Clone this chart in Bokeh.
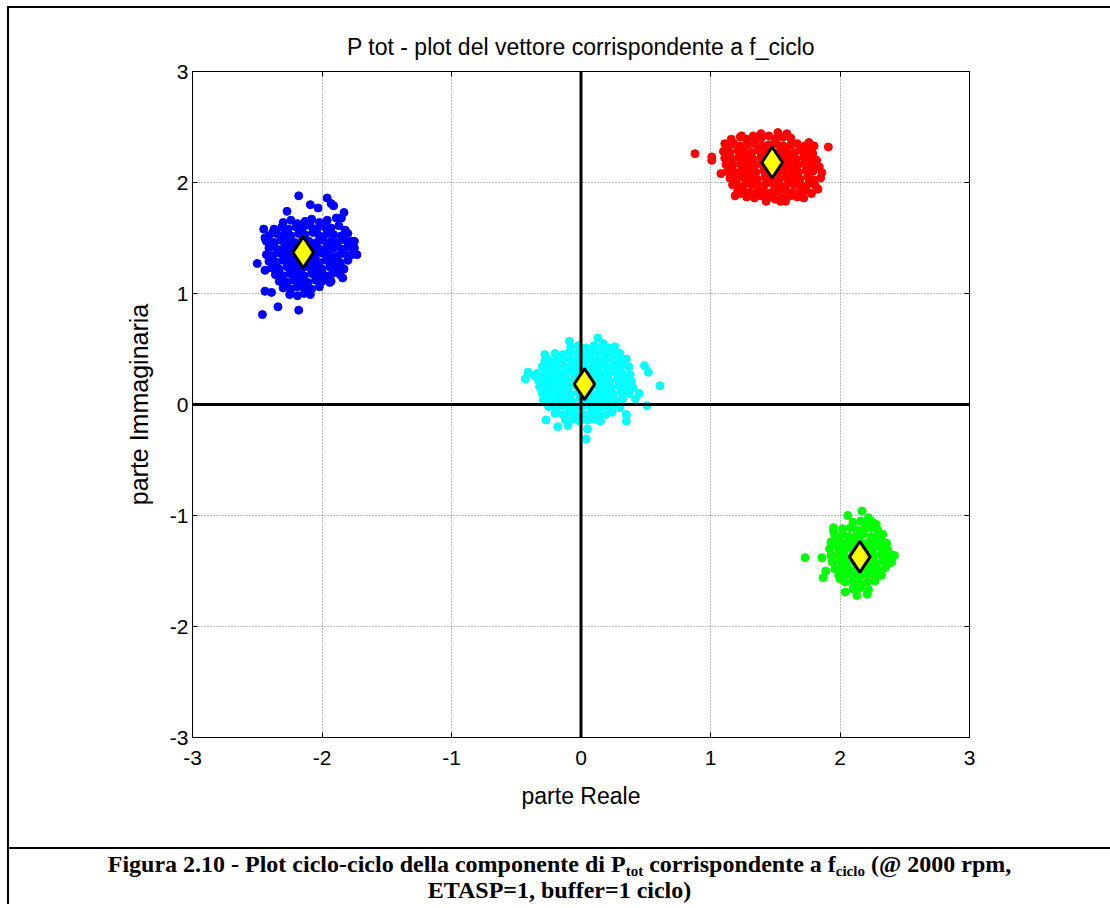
from bokeh.plotting import figure
from bokeh.models import Span, FixedTicker, LinearAxis, Range1d, Div, CustomJSTickFormatter
from bokeh.layouts import column
from bokeh.embed import file_html
from bokeh.resources import INLINE

# axis ticks (both axes)
tick_values = [-3, -2, -1, 0, 1, 2, 3]
tick_labels = {v: str(v) for v in tick_values}

# cycle-by-cycle vectors (real part, imaginary part), one cloud per harmonic source
blue_pts = [
    (-2.18, 1.88), (-1.96, 1.86), (-2.09, 1.80), (-2.03, 1.77), (-1.93, 1.81), (-1.91, 1.79),
    (-2.27, 1.74), (-1.83, 1.73), (-1.89, 1.68), (-1.85, 1.68), (-2.45, 1.58), (-2.38, 1.55),
    (-2.44, 1.50), (-1.82, 1.57), (-1.75, 1.47), (-1.73, 1.35), (-2.50, 1.27), (-2.44, 1.21),
    (-1.85, 1.24), (-1.93, 1.11), (-1.84, 1.14), (-2.44, 1.02), (-2.39, 1.01), (-2.34, 0.88),
    (-2.18, 0.85), (-2.46, 0.81),
    (-2.30, 1.64), (-2.24, 1.66), (-2.19, 1.63), (-2.13, 1.65), (-2.08, 1.67), (-2.02, 1.64), (-1.96, 1.66),
    (-2.37, 1.58), (-2.31, 1.60), (-2.26, 1.58), (-2.20, 1.60), (-2.15, 1.59), (-2.09, 1.61), (-2.04, 1.58),
    (-1.98, 1.60), (-1.93, 1.59), (-1.87, 1.61),
    (-2.41, 1.52), (-2.35, 1.54), (-2.29, 1.53), (-2.24, 1.52), (-2.18, 1.54), (-2.13, 1.53), (-2.07, 1.55),
    (-2.02, 1.52), (-1.96, 1.54), (-1.91, 1.53), (-1.85, 1.52), (-1.80, 1.54),
    (-2.43, 1.47), (-2.37, 1.46), (-2.32, 1.48), (-2.26, 1.47), (-2.21, 1.46), (-2.15, 1.48), (-2.10, 1.47),
    (-2.04, 1.46), (-1.99, 1.48), (-1.93, 1.47), (-1.88, 1.46), (-1.82, 1.48), (-1.77, 1.47),
    (-2.41, 1.41), (-2.35, 1.40), (-2.29, 1.42), (-2.24, 1.41), (-2.18, 1.40), (-2.13, 1.42), (-2.07, 1.41),
    (-2.02, 1.40), (-1.96, 1.42), (-1.91, 1.41), (-1.85, 1.40), (-1.80, 1.42), (-1.75, 1.41),
    (-2.43, 1.35), (-2.38, 1.34), (-2.32, 1.36), (-2.27, 1.35), (-2.21, 1.34), (-2.16, 1.36), (-2.10, 1.35),
    (-2.05, 1.34), (-1.99, 1.36), (-1.94, 1.35), (-1.88, 1.34), (-1.83, 1.36), (-1.77, 1.35),
    (-2.41, 1.29), (-2.35, 1.28), (-2.30, 1.30), (-2.24, 1.29), (-2.19, 1.28), (-2.13, 1.30), (-2.08, 1.29),
    (-2.02, 1.28), (-1.97, 1.30), (-1.91, 1.29), (-1.86, 1.28), (-1.80, 1.30),
    (-2.39, 1.23), (-2.33, 1.22), (-2.27, 1.24), (-2.22, 1.23), (-2.16, 1.22), (-2.11, 1.24), (-2.05, 1.23),
    (-2.00, 1.22), (-1.94, 1.24), (-1.89, 1.23), (-1.83, 1.22),
    (-2.36, 1.17), (-2.30, 1.16), (-2.25, 1.18), (-2.19, 1.17), (-2.14, 1.16), (-2.08, 1.18), (-2.03, 1.17),
    (-1.97, 1.16), (-1.92, 1.18), (-1.86, 1.17),
    (-2.33, 1.11), (-2.27, 1.10), (-2.22, 1.12), (-2.16, 1.11), (-2.11, 1.10), (-2.05, 1.12), (-2.00, 1.11),
    (-1.94, 1.10),
    (-2.30, 1.05), (-2.24, 1.04), (-2.19, 1.06), (-2.13, 1.05), (-2.08, 1.04), (-2.02, 1.06),
    (-2.25, 0.99), (-2.19, 0.98), (-2.14, 1.00), (-2.09, 0.99),
]

red_pts = [
    (0.88, 2.26), (1.01, 2.23), (1.01, 2.20), (1.08, 2.08), (1.11, 2.35), (1.91, 2.32), (1.80, 2.33),
    (1.83, 1.94), (1.85, 2.04), (1.23, 1.90), (1.43, 1.83), (1.54, 1.83), (1.58, 1.83), (1.39, 2.44),
    (1.52, 2.45), (1.59, 2.44), (1.16, 2.39), (1.24, 2.42), (1.33, 2.42), (1.50, 1.85), (1.19, 1.88),
    (1.23, 2.41), (1.28, 2.39), (1.34, 2.41), (1.39, 2.40), (1.45, 2.42), (1.50, 2.39),
    (1.56, 2.41), (1.62, 2.40),
    (1.14, 2.33), (1.18, 2.35), (1.23, 2.33), (1.29, 2.34), (1.34, 2.35), (1.40, 2.33), (1.45, 2.34),
    (1.51, 2.35), (1.56, 2.33), (1.62, 2.34), (1.67, 2.35), (1.73, 2.33), (1.76, 2.36),
    (1.10, 2.28), (1.15, 2.27), (1.21, 2.29), (1.26, 2.28), (1.32, 2.27), (1.37, 2.29), (1.43, 2.28),
    (1.48, 2.27), (1.54, 2.29), (1.59, 2.28), (1.65, 2.27), (1.70, 2.29), (1.76, 2.28), (1.79, 2.26),
    (1.11, 2.22), (1.17, 2.21), (1.22, 2.23), (1.28, 2.22), (1.33, 2.21), (1.39, 2.23), (1.44, 2.22),
    (1.50, 2.21), (1.55, 2.23), (1.61, 2.22), (1.66, 2.21), (1.72, 2.23), (1.77, 2.22), (1.82, 2.20),
    (1.12, 2.16), (1.17, 2.15), (1.23, 2.17), (1.28, 2.16), (1.34, 2.15), (1.39, 2.17), (1.45, 2.16),
    (1.50, 2.15), (1.56, 2.17), (1.61, 2.16), (1.67, 2.15), (1.72, 2.17), (1.78, 2.16), (1.84, 2.14),
    (1.13, 2.10), (1.19, 2.09), (1.24, 2.11), (1.30, 2.10), (1.35, 2.09), (1.41, 2.11), (1.46, 2.10),
    (1.52, 2.09), (1.57, 2.11), (1.63, 2.10), (1.68, 2.09), (1.74, 2.11), (1.79, 2.10), (1.86, 2.09),
    (1.15, 2.04), (1.20, 2.03), (1.25, 2.05), (1.31, 2.04), (1.36, 2.03), (1.42, 2.05), (1.47, 2.04),
    (1.53, 2.03), (1.58, 2.05), (1.64, 2.04), (1.69, 2.03), (1.75, 2.05), (1.80, 2.02),
    (1.17, 1.98), (1.21, 1.97), (1.27, 1.99), (1.32, 1.98), (1.38, 1.97), (1.43, 1.99), (1.49, 1.98),
    (1.54, 1.97), (1.60, 1.99), (1.65, 1.98), (1.71, 1.97), (1.76, 1.99), (1.81, 1.97),
    (1.21, 1.92), (1.25, 1.93), (1.30, 1.91), (1.36, 1.92), (1.41, 1.93), (1.47, 1.91), (1.52, 1.92),
    (1.58, 1.93), (1.63, 1.91), (1.69, 1.92), (1.74, 1.93), (1.78, 1.90),
    (1.28, 1.87), (1.34, 1.86), (1.39, 1.88), (1.45, 1.87), (1.56, 1.86), (1.62, 1.88), (1.67, 1.87),
    (1.72, 1.86),
]

cyan_pts = [
    (-0.41, 0.29), (-0.36, 0.26), (-0.28, 0.45), (-0.28, 0.39), (-0.09, 0.57), (0.13, 0.60),
    (0.26, 0.52), (0.17, 0.55), (0.49, 0.35), (0.52, 0.29), (0.61, 0.17), (0.51, -0.01),
    (0.35, -0.09), (0.35, -0.15), (0.04, -0.31), (-0.18, -0.20), (-0.27, -0.14), (0.45, 0.10),
    (0.42, 0.05), (-0.43, 0.23), (0.05, -0.22), (-0.10, -0.19),
    (-0.08, 0.52), (-0.02, 0.53), (0.04, 0.51), (0.10, 0.53), (0.16, 0.52), (0.21, 0.51),
    (-0.20, 0.46), (-0.14, 0.45), (-0.09, 0.47), (-0.03, 0.46), (0.02, 0.45), (0.08, 0.47), (0.13, 0.46),
    (0.19, 0.45), (0.24, 0.47), (0.30, 0.46),
    (-0.25, 0.40), (-0.19, 0.39), (-0.14, 0.41), (-0.08, 0.40), (-0.03, 0.39), (0.03, 0.41), (0.08, 0.40),
    (0.14, 0.39), (0.19, 0.41), (0.25, 0.40), (0.30, 0.39), (0.35, 0.41),
    (-0.30, 0.34), (-0.24, 0.33), (-0.19, 0.35), (-0.13, 0.34), (-0.08, 0.33), (-0.02, 0.35), (0.03, 0.34),
    (0.09, 0.33), (0.14, 0.35), (0.20, 0.34), (0.25, 0.33), (0.31, 0.35), (0.37, 0.34),
    (-0.34, 0.28), (-0.28, 0.27), (-0.23, 0.29), (-0.17, 0.28), (-0.12, 0.27), (-0.06, 0.29), (-0.01, 0.28),
    (0.05, 0.27), (0.10, 0.29), (0.16, 0.28), (0.21, 0.27), (0.27, 0.29), (0.32, 0.28), (0.38, 0.27),
    (-0.33, 0.22), (-0.27, 0.21), (-0.22, 0.23), (-0.16, 0.22), (-0.11, 0.21), (-0.05, 0.23), (0.00, 0.22),
    (0.06, 0.21), (0.11, 0.23), (0.17, 0.22), (0.22, 0.21), (0.28, 0.23), (0.33, 0.22), (0.39, 0.21),
    (-0.32, 0.16), (-0.26, 0.15), (-0.21, 0.17), (-0.15, 0.16), (-0.10, 0.15), (-0.04, 0.17), (0.01, 0.16),
    (0.07, 0.15), (0.12, 0.17), (0.18, 0.16), (0.23, 0.15), (0.29, 0.17), (0.34, 0.16), (0.40, 0.15),
    (-0.30, 0.10), (-0.24, 0.09), (-0.19, 0.11), (-0.13, 0.10), (-0.08, 0.09), (-0.02, 0.11), (0.03, 0.10),
    (0.09, 0.09), (0.14, 0.11), (0.20, 0.10), (0.25, 0.09), (0.31, 0.11), (0.37, 0.10),
    (-0.29, 0.04), (-0.23, 0.03), (-0.18, 0.05), (-0.12, 0.04), (-0.07, 0.03), (-0.01, 0.05), (0.04, 0.04),
    (0.10, 0.03), (0.15, 0.05), (0.21, 0.04), (0.26, 0.03), (0.32, 0.05),
    (-0.25, -0.02), (-0.19, -0.03), (-0.14, -0.01), (-0.08, -0.02), (-0.03, -0.03), (0.03, -0.01),
    (0.08, -0.02), (0.14, -0.03), (0.19, -0.01), (0.25, -0.02), (0.30, -0.03),
    (-0.20, -0.08), (-0.14, -0.09), (-0.09, -0.07), (-0.03, -0.08), (0.02, -0.09), (0.08, -0.07),
    (0.13, -0.08), (0.19, -0.09), (0.24, -0.07),
    (-0.12, -0.14), (-0.06, -0.13), (-0.01, -0.15), (0.05, -0.14), (0.10, -0.13), (0.15, -0.15),
]

green_pts = [
    (1.73, -1.38), (1.86, -1.38), (1.95, -1.11), (1.95, -1.14), (2.17, -0.96), (2.06, -1.00),
    (2.22, -1.02), (2.28, -1.08), (1.87, -1.56), (1.89, -1.50), (2.00, -1.57), (2.04, -1.69),
    (2.13, -1.72), (2.21, -1.71), (2.40, -1.42), (2.42, -1.36),
    (2.10, -1.06), (2.16, -1.05), (2.21, -1.07), (2.25, -1.06),
    (2.02, -1.12), (2.08, -1.11), (2.13, -1.13), (2.19, -1.12), (2.24, -1.11), (2.29, -1.13),
    (1.96, -1.18), (2.02, -1.17), (2.07, -1.19), (2.13, -1.18), (2.18, -1.17), (2.24, -1.19), (2.29, -1.18),
    (2.33, -1.17),
    (1.93, -1.24), (1.99, -1.23), (2.04, -1.25), (2.10, -1.24), (2.15, -1.23), (2.21, -1.25), (2.26, -1.24),
    (2.32, -1.23), (2.36, -1.25),
    (1.92, -1.30), (1.98, -1.29), (2.03, -1.31), (2.09, -1.30), (2.14, -1.29), (2.20, -1.31), (2.25, -1.30),
    (2.31, -1.29), (2.37, -1.31),
    (1.93, -1.36), (1.99, -1.35), (2.04, -1.37), (2.10, -1.36), (2.15, -1.35), (2.21, -1.37), (2.26, -1.36),
    (2.32, -1.35), (2.37, -1.37), (2.40, -1.36),
    (1.94, -1.42), (2.00, -1.41), (2.05, -1.43), (2.11, -1.42), (2.16, -1.41), (2.22, -1.43), (2.27, -1.42),
    (2.33, -1.41), (2.38, -1.43),
    (1.96, -1.48), (2.02, -1.47), (2.07, -1.49), (2.13, -1.48), (2.18, -1.47), (2.24, -1.49), (2.29, -1.48),
    (2.35, -1.47),
    (1.99, -1.54), (2.05, -1.53), (2.10, -1.55), (2.16, -1.54), (2.21, -1.53), (2.27, -1.55), (2.32, -1.54),
    (2.04, -1.60), (2.10, -1.59), (2.15, -1.61), (2.21, -1.60), (2.27, -1.59),
    (2.10, -1.66), (2.16, -1.65), (2.22, -1.67),
]

# mean vector of each cloud
mean_re = [-2.145, 1.476, 0.027, 2.153]
mean_im = [1.37, 2.18, 0.184, -1.373]

clouds = [
    (blue_pts, "#0000FF"),
    (red_pts, "#FF0000"),
    (cyan_pts, "#00FFFF"),
    (green_pts, "#00FF00"),
]

FONT = "Liberation Sans"

p = figure(
    width=1101, height=839,
    x_range=Range1d(-3, 3), y_range=Range1d(-3, 3),
    output_backend="svg", toolbar_location=None,
    min_border_left=183, min_border_right=141,
    min_border_top=63, min_border_bottom=110,
    title="P tot - plot del vettore corrispondente a f_ciclo",
)
p.background_fill_color = "white"
p.border_fill_color = "white"
p.outline_line_color = "black"
p.outline_line_width = 1

p.title.align = "center"
p.title.text_font = FONT
p.title.text_font_size = "23px"
p.title.text_font_style = "normal"
p.title.text_color = "black"
p.title.standoff = 23

for ax in (p.xaxis[0], p.yaxis[0]):
    ax.ticker = FixedTicker(ticks=tick_values)
    ax.major_label_overrides = tick_labels
    ax.major_tick_in = 5
    ax.major_tick_out = 0
    ax.minor_tick_in = 0
    ax.minor_tick_out = 0
    ax.axis_line_color = "black"
    ax.major_tick_line_color = "black"
    ax.major_label_text_font = FONT
    ax.major_label_text_font_size = "21px"
    ax.major_label_text_color = "black"
    ax.axis_label_text_font = FONT
    ax.axis_label_text_font_style = "normal"
    ax.axis_label_text_color = "black"

p.xaxis[0].axis_label = "parte Reale"
p.xaxis[0].axis_label_text_font_size = "23px"
p.xaxis[0].major_label_standoff = 13
p.xaxis[0].axis_label_standoff = 15
p.yaxis[0].axis_label = "parte Immaginaria"
p.yaxis[0].axis_label_text_font_size = "25px"
p.yaxis[0].major_label_standoff = 4
p.yaxis[0].axis_label_standoff = 14

# inner ticks on the top and right edges of the box
for side in ("above", "right"):
    ax = LinearAxis(
        ticker=FixedTicker(ticks=tick_values),
        formatter=CustomJSTickFormatter(code="return ''"),
        major_tick_in=5, major_tick_out=0, minor_tick_in=0, minor_tick_out=0,
        major_label_standoff=0,
        axis_line_color="black", major_tick_line_color="black",
    )
    p.add_layout(ax, side)

for g in (p.xgrid[0], p.ygrid[0]):
    g.ticker = FixedTicker(ticks=tick_values)
    g.grid_line_color = "#777777"
    g.grid_line_dash = "1 2"
    g.grid_line_width = 1

for pts, col in clouds:
    xs = [pt[0] for pt in pts]
    ys = [pt[1] for pt in pts]
    p.scatter(xs, ys, size=8, fill_color=col, line_color=col, line_width=1)

# real and imaginary axes through the origin
p.add_layout(Span(location=0, dimension="height", line_color="black", line_width=3))
p.add_layout(Span(location=0, dimension="width", line_color="black", line_width=3))

means = p.scatter(mean_re, mean_im, marker="diamond", size=31,
                  fill_color="#FFFF00", line_color="black", line_width=3)
means.level = "overlay"

SUB = '<sub style="font-size:15px; line-height:0; vertical-align:-4px">'
caption = Div(
    text=(
        '<div style="text-align:center; width:1101px; font-family:\'Liberation Serif\'; '
        'font-weight:bold; font-size:24px; line-height:26px; color:black; padding-top:2px;">'
        f'Figura 2.10 - Plot ciclo-ciclo della componente di P{SUB}tot</sub> '
        f'corrispondente a f{SUB}ciclo</sub> (@ 2000 rpm,<br>'
        'ETASP=1, buffer=1 ciclo)</div>'
    ),
    width=1101, height=57, margin=0,
    styles={"border-top": "2px solid black"},
)

page = column(p, caption, margin=(6, 0, 0, 7),
              styles={"border-top": "2px solid black", "border-left": "2px solid black"})

open("out.html", "w").write(file_html(page, INLINE))
